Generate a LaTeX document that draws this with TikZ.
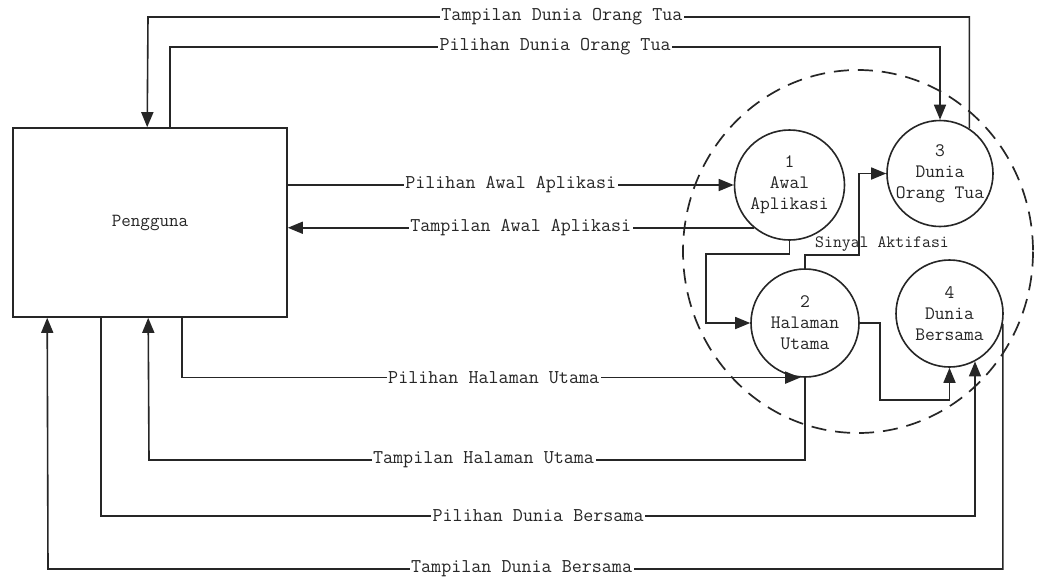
\documentclass[tikz,border=0pt]{standalone}
\usepackage{fontspec}
\usetikzlibrary{arrows.meta}
\begin{document}
\begin{tikzpicture}[x=1pt,y=-1pt,
  ln/.style={line width=1.6pt, draw=black!85},
  arr/.style={ln, -{Triangle[length=15pt,width=12pt]}},
  lbl/.style={fill=white, inner sep=1.5pt, font=\ttfamily\fontsize{19.5}{22}\selectfont, text=black!85},
  proc/.style={circle, draw=black!85, line width=1.6pt, inner sep=0pt},
  ptext/.style={align=center, font=\ttfamily\fontsize{19}{21}\selectfont, text=black!85},
  sig/.style={font=\ttfamily\fontsize{17.3}{19}\selectfont, text=black!85, inner sep=0pt}
]
\useasboundingbox (0,0) rectangle (1038,576);
\fill[white] (0,0) rectangle (1038,576);

% process boundary
\draw[black!85, line width=1.7pt, dash pattern=on 15pt off 9pt] (858,251.5) ellipse [x radius=175, y radius=181.5];

% nodes
\node[draw=black!85, line width=1.6pt, minimum width=274pt, minimum height=189pt,
      font=\ttfamily\fontsize{18.5}{20}\selectfont, text=black!85] (peng) at (150,222.5) {Pengguna};
\node[proc, minimum size=110pt, label={[ptext]center:{1\\Awal\\Aplikasi}}] (p1) at (789.5,185) {};
\node[proc, minimum size=108pt, label={[ptext]center:{2\\Halaman\\Utama}}] (p2) at (805,323) {};
\node[proc, minimum size=106pt, label={[ptext]center:{3\\Dunia\\Orang Tua}}] (p3) at (940,173.5) {};
\node[proc, minimum size=107pt, label={[ptext]center:{4\\Dunia\\Bersama}}] (p4) at (949.5,313.5) {};

% top flows
\draw[arr] (p3.57) |- node[lbl,pos=0.748]{Tampilan Dunia Orang Tua} (148,17) -- ([xshift=135pt]peng.north west);
\draw[arr] ([xshift=158pt]peng.north west) |- node[lbl,pos=0.75]{Pilihan Dunia Orang Tua} (p3.north |- 0,47) -- (p3.north);

% middle flows
\draw[arr] (peng.east |- p1.west) -- node[lbl]{Pilihan Awal Aplikasi} (p1.west);
\draw[arr] (p1.230) -- node[lbl]{Tampilan Awal Aplikasi} (p1.230 -| peng.east);

% bottom flows
\draw[arr] ([xshift=170pt]peng.south west) |- node[lbl,pos=0.752]{Pilihan Halaman Utama} (p2.265);
\draw[arr] (p2.south) |- node[lbl,pos=0.745]{Tampilan Halaman Utama} (149,460) -- ([xshift=136pt]peng.south west);
\draw[arr] ([xshift=89pt]peng.south west) |- node[lbl,pos=0.75]{Pilihan Dunia Bersama} (p4.298 |- 0,516) -- (p4.298);
\draw[arr] (p4.349) |- node[lbl,pos=0.752]{Tampilan Dunia Bersama} (48,569) -- ([xshift=35pt]peng.south west);

% internal flows
\draw[arr] (p1.south) |- (706,254) |- (p2.west);
\draw[arr] (p2.north) |- (859,255) |- (p3.west);
\node[sig] (sinyal) at (882,244) {Sinyal Aktifasi};
\draw[arr] (p2.east) -| (880,400) -| (p4.south);
\end{tikzpicture}
\end{document}
